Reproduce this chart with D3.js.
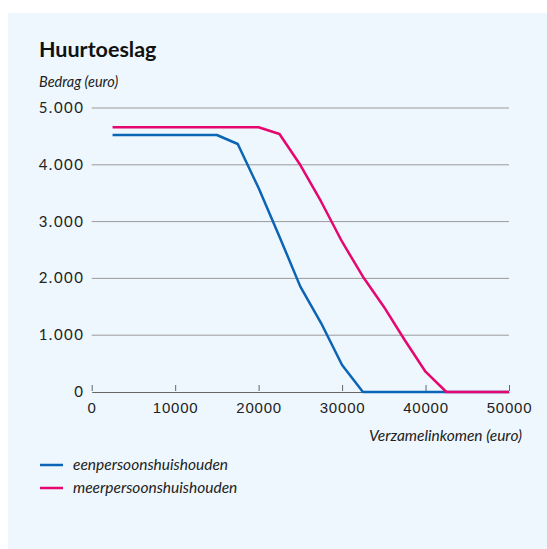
<!DOCTYPE html>
<html><head><meta charset="utf-8">
<script src="https://cdn.jsdelivr.net/npm/d3@7"></script>
<style>
body{margin:0;background:#fff;}
svg{display:block;font-family:Lato,"Open Sans",sans-serif;}
</style></head><body>
<svg id="c" width="547" height="549"></svg>
<script>
const income = [2500,5000,7500,10000,12500,15000,17500,20000,22500,25000,27500,30000,32500,35000,37500,40000,42500,45000,47500,50000];
const eenpersoons = [4525,4525,4525,4525,4525,4525,4366,3590,2735,1855,1210,475,0,0,0,0,0,0,0,0];
const meerpersoons = [4660,4660,4660,4660,4660,4660,4660,4660,4542,3996,3350,2646,2030,1502,915,357,0,0,0,0];
const seriesNames = ["eenpersoonshuishouden","meerpersoonshuishouden"];
const colors = ["#0b64b4","#e5076f"];
const yTicks = [0,1000,2000,3000,4000,5000];
const yTickLabels = ["0","1.000","2.000","3.000","4.000","5.000"];
const xTicks = [0,10000,20000,30000,40000,50000];

const svg = d3.select("#c");
svg.append("rect").attr("x",8).attr("y",13).attr("width",539).attr("height",536).attr("fill","#eef7fe");

const x = d3.scaleLinear().domain([0,50000]).range([91.7,509]);
const y = d3.scaleLinear().domain([0,5000]).range([392,108]);

svg.append("text").attr("x",39).attr("y",57).attr("font-size",21.5).attr("font-weight","bold").attr("fill","#111").text("Huurtoeslag");
svg.append("text").attr("x",39).attr("y",87).attr("font-size",14.5).attr("font-style","italic").attr("fill","#222").text("Bedrag (euro)");

// grid
svg.append("g").selectAll("line").data(yTicks.filter(d=>d>0)).join("line")
  .attr("x1",x(0)).attr("x2",x(50000)).attr("y1",d=>y(d)).attr("y2",d=>y(d))
  .attr("stroke","#9a9a9a").attr("stroke-width",1);

svg.append("g").selectAll("text").data(yTicks).join("text")
  .attr("x",84.5).attr("y",d=>y(d)+5).attr("text-anchor","end").attr("font-size",15).attr("letter-spacing",1.5).attr("fill","#222")
  .text((d,i)=>yTickLabels[i]);

// x axis
const xAxis = d3.axisBottom(x).tickValues(xTicks).tickSize(6).tickSizeOuter(0).tickFormat(d=>String(d));
const gx = svg.append("g").attr("transform",`translate(0,${y(0)})`).call(xAxis);
gx.select(".domain").attr("stroke","#666");
gx.selectAll(".tick line").attr("stroke","#666").attr("y1",-1).attr("y2",-7);
gx.selectAll(".tick text").attr("font-family",null).attr("font-size",15).attr("letter-spacing",0.8).attr("fill","#222").attr("dy",0).attr("y",21);

svg.append("text").attr("x",522).attr("y",441).attr("text-anchor","end").attr("font-size",15.5).attr("font-style","italic").attr("fill","#222").text("Verzamelinkomen (euro)");

const line = d3.line().x((d,i)=>x(income[i])).y(d=>y(d));
[eenpersoons,meerpersoons].forEach((s,k)=>{
  svg.append("path").attr("d",line(s)).attr("fill","none").attr("stroke",colors[k]).attr("stroke-width",2.5).attr("stroke-linejoin","round");
});

const lg = svg.append("g");
seriesNames.forEach((n,k)=>{
  const yy = 465 + k*23;
  lg.append("line").attr("x1",40).attr("x2",63).attr("y1",yy).attr("y2",yy).attr("stroke",colors[k]).attr("stroke-width",2.5);
  lg.append("text").attr("x",73).attr("y",yy+5).attr("font-size",15.5).attr("font-style","italic").attr("fill","#222").text(n);
});
</script></body></html>
